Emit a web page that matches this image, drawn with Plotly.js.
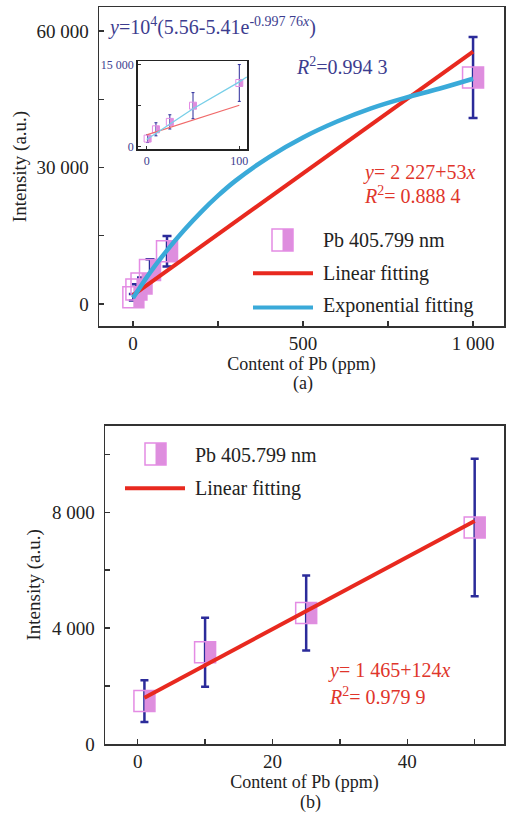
<!DOCTYPE html>
<html>
<head>
<meta charset="utf-8">
<script src="https://cdn.plot.ly/plotly-3.0.1.min.js"></script>
<style>html,body{margin:0;padding:0;background:#fff;}#chart{width:506px;height:817px;}</style>
</head>
<body>
<div id="chart"></div>
<script>
// ---------- data ----------
const contentTop = [1, 10, 25, 50, 100, 1000];
const intensityTop = [1480, 3170, 4520, 7470, 11600, 49800];
const errorTop = [720, 1190, 1295, 2375, 3350, 8900];

const contentBottom = [1, 10, 25, 50];
const intensityBottom = [1480, 3170, 4520, 7470];
const errorBottom = [720, 1190, 1295, 2375];

const linearTopX = [0, 1000];
const linearTopY = [1950, 55450];
const expTopX = [0, 50, 100, 150, 200, 250, 300, 400, 500, 600, 700, 800, 900, 1000];
const expTopY = [1300, 6900, 11800, 16200, 20200, 23800, 27000, 32300, 36600, 40100, 43000, 45300, 47300, 49500];

const insetX = [1, 10, 25, 50, 100];
const insetY = [1480, 3170, 4520, 7470, 11600];
const insetErr = [720, 1190, 1295, 2375, 3350];
const insetLinX = [0, 100];
const insetLinY = [2150, 7550];
const insetExpX = [0, 50, 100, 108];
const insetExpY = [1300, 6900, 11800, 12700];

const linearBottomX = [1, 50];
const linearBottomY = [1600, 7700];

const topXTicks = [0, 500, 1000];
const topXTickText = ['0', '500', '1 000'];
const topXMinor = [250, 750];
const topYTicks = [0, 30000, 60000];
const topYTickText = ['0', '30 000', '60 000'];
const topYMinor = [15000, 45000];
const botXTicks = [0, 20, 40];
const botXTickText = ['0', '20', '40'];
const botXMinor = [10, 30, 50];
const botYTicks = [0, 4000, 8000];
const botYTickText = ['0', '4 000', '8 000'];
const botYMinor = [2000, 6000, 10000];
const insetXTicks = [0, 100];
const insetXTickText = ['0', '100'];
const insetYTicks = [0, 15000];
const insetYTickText = ['0', '15 000'];
const insetYMinor = [7500];

// ---------- styles ----------
const W = 506, H = 817;
const PINK = '#de8ede', PINK_LINE = '#e48ce4';
const NAVY = '#2b2b9a', NAVY_TEXT = '#3d3d8f';
const RED = '#e8291f', RED_TEXT = '#e0352b';
const BLUE = '#3aaad9';
const FONT = 'Liberation Serif, Times New Roman, serif';
const px = v => v / W, py = v => 1 - v / H;

// offset (in data units) of the filled half of each marker
const offTop = 15.4, offBot = 0.78, offIn = 1.9;

const traces = [];
function markerTraces(xs, ys, es, xa, ya, off, size, capW, thick, lw) {
  traces.push({x: xs, y: ys, xaxis: xa, yaxis: ya, type: 'scatter', mode: 'markers', showlegend: false,
    marker: {symbol: 'square-open', size: size, color: PINK_LINE, line: {color: PINK_LINE, width: lw}},
    error_y: {type: 'data', array: es, visible: true, color: NAVY, thickness: thick, width: capW}});
  traces.push({x: xs.map(v => v + off), y: ys, xaxis: xa, yaxis: ya, type: 'scatter', mode: 'markers', showlegend: false,
    marker: {symbol: 'line-ns', size: size / 1.4, color: PINK, line: {color: PINK, width: size / 2}}});
}

// top panel
markerTraces(contentTop, intensityTop, errorTop, 'x', 'y', offTop, 21, 4.5, 2.5, 1.5);
traces.push({x: linearTopX, y: linearTopY, xaxis: 'x', yaxis: 'y', mode: 'lines', showlegend: false,
  line: {color: RED, width: 4}});
traces.push({x: expTopX, y: expTopY, xaxis: 'x', yaxis: 'y', mode: 'lines', showlegend: false,
  line: {color: BLUE, width: 4.5, shape: 'spline', smoothing: 1}});

// inset
markerTraces(insetX, insetY, insetErr, 'x3', 'y3', offIn, 7, 1.5, 1, 1);
traces.push({x: insetLinX, y: insetLinY, xaxis: 'x3', yaxis: 'y3', mode: 'lines', showlegend: false,
  line: {color: '#f06a6a', width: 1.2}});
traces.push({x: insetExpX, y: insetExpY, xaxis: 'x3', yaxis: 'y3', mode: 'lines', showlegend: false,
  line: {color: '#78cfe8', width: 1.3}});

// bottom panel
markerTraces(contentBottom, intensityBottom, errorBottom, 'x2', 'y2', offBot, 21, 4, 2.5, 1.5);
traces.push({x: linearBottomX, y: linearBottomY, xaxis: 'x2', yaxis: 'y2', mode: 'lines', showlegend: false,
  line: {color: RED, width: 4}});

function minorTicks(vals, len, width) {
  return {tickmode: 'array', tickvals: vals, ticks: 'inside', ticklen: len, tickwidth: width, tickcolor: '#333', showgrid: false};
}

const axisBase = {
  showline: true, mirror: true, linecolor: '#333', linewidth: 1.5,
  ticks: 'inside', ticklen: 5, tickwidth: 1.3, tickcolor: '#333',
  showgrid: false, zeroline: false, tickmode: 'array',
  tickfont: {family: FONT, size: 19, color: '#222'}
};

const layout = {
  width: W, height: H, margin: {l: 0, r: 0, t: 0, b: 0},
  paper_bgcolor: '#fff', plot_bgcolor: 'rgba(0,0,0,0)',
  showlegend: false,
  font: {family: FONT},
  xaxis: Object.assign({}, axisBase, {domain: [px(99), px(504)], range: [-100, 1091], anchor: 'y',
    tickvals: topXTicks, ticktext: topXTickText, minor: minorTicks(topXMinor, 5, 1.3),
    title: {text: 'Content of Pb (ppm)', font: {family: FONT, size: 18, color: '#222'}, standoff: 3}}),
  yaxis: Object.assign({}, axisBase, {domain: [py(326), py(7)], range: [-4835, 65270], anchor: 'x',
    tickvals: topYTicks, ticktext: topYTickText, ticklabelstandoff: 5, minor: minorTicks(topYMinor, 5, 1.3),
    title: {text: 'Intensity (a.u.)', font: {family: FONT, size: 19, color: '#222'}, standoff: 5}}),
  xaxis2: Object.assign({}, axisBase, {domain: [px(105), px(504)], range: [-4.85, 54.35], anchor: 'y2',
    tickvals: botXTicks, ticktext: botXTickText, minor: minorTicks(botXMinor, 5, 1.3),
    title: {text: 'Content of Pb (ppm)', font: {family: FONT, size: 18, color: '#222'}, standoff: 3}}),
  yaxis2: Object.assign({}, axisBase, {domain: [py(744), py(425.7)], range: [0, 10985], anchor: 'x2',
    tickvals: botYTicks, ticktext: botYTickText, ticklabelstandoff: 5, minor: minorTicks(botYMinor, 5, 1.3),
    title: {text: 'Intensity (a.u.)', font: {family: FONT, size: 19, color: '#222'}, standoff: 6}}),
  xaxis3: Object.assign({}, axisBase, {domain: [px(137.7), px(247)], range: [-9.7, 108.3], anchor: 'y3',
    linecolor: '#222', linewidth: 1.5, ticklen: 3, tickwidth: 1,
    tickvals: insetXTicks, ticktext: insetXTickText,
    tickfont: {family: FONT, size: 12, color: NAVY_TEXT}}),
  yaxis3: Object.assign({}, axisBase, {domain: [py(149.3), py(61)], range: [-470, 15600], anchor: 'x3',
    linecolor: '#222', linewidth: 1.5, ticklen: 3, tickwidth: 1,
    tickvals: insetYTicks, ticktext: insetYTickText, minor: minorTicks(insetYMinor, 3, 1),
    tickfont: {family: FONT, size: 12, color: NAVY_TEXT}}),
  shapes: [
    // inset white background
    {type: 'rect', xref: 'paper', yref: 'paper', x0: px(137.7), x1: px(247), y0: py(149.3), y1: py(61),
      fillcolor: '#fff', line: {width: 0}, layer: 'below'},
    // top legend
    {type: 'rect', xref: 'paper', yref: 'paper', x0: px(282.5), x1: px(293), y0: py(251), y1: py(229),
      fillcolor: PINK, line: {width: 0}},
    {type: 'rect', xref: 'paper', yref: 'paper', x0: px(272), x1: px(293), y0: py(251), y1: py(229),
      line: {color: PINK_LINE, width: 1.5}},
    {type: 'line', xref: 'paper', yref: 'paper', x0: px(253), x1: px(313), y0: py(273.3), y1: py(273.3),
      line: {color: RED, width: 4}},
    {type: 'line', xref: 'paper', yref: 'paper', x0: px(253), x1: px(313), y0: py(307.5), y1: py(307.5),
      line: {color: BLUE, width: 4}},
    // bottom legend
    {type: 'rect', xref: 'paper', yref: 'paper', x0: px(155.5), x1: px(166), y0: py(465), y1: py(443),
      fillcolor: PINK, line: {width: 0}},
    {type: 'rect', xref: 'paper', yref: 'paper', x0: px(145), x1: px(166), y0: py(465), y1: py(443),
      line: {color: PINK_LINE, width: 1.5}},
    {type: 'line', xref: 'paper', yref: 'paper', x0: px(125), x1: px(185), y0: py(488.3), y1: py(488.3),
      line: {color: RED, width: 4}}
  ],
  annotations: [
    {text: '<i>y</i>=10<sup>4</sup>(5.56-5.41e<sup>-0.997 76<i>x</i></sup>)', x: px(106), y: py(27), xanchor: 'left', yanchor: 'middle',
      font: {family: FONT, size: 20, color: NAVY_TEXT}, showarrow: false, xref: 'paper', yref: 'paper'},
    {text: '<i>R</i><sup>2</sup>=0.994 3', x: px(294), y: py(66), xanchor: 'left', yanchor: 'middle',
      font: {family: FONT, size: 20, color: NAVY_TEXT}, showarrow: false, xref: 'paper', yref: 'paper'},
    {text: '<i>y</i>= 2 227+53<i>x</i>', x: px(361), y: py(172), xanchor: 'left', yanchor: 'middle',
      font: {family: FONT, size: 20, color: RED_TEXT}, showarrow: false, xref: 'paper', yref: 'paper'},
    {text: '<i>R</i><sup>2</sup>= 0.888 4', x: px(362), y: py(195), xanchor: 'left', yanchor: 'middle',
      font: {family: FONT, size: 20, color: RED_TEXT}, showarrow: false, xref: 'paper', yref: 'paper'},
    {text: 'Pb 405.799 nm', x: px(321), y: py(240), xanchor: 'left', yanchor: 'middle',
      font: {family: FONT, size: 20, color: '#222'}, showarrow: false, xref: 'paper', yref: 'paper'},
    {text: 'Linear fitting', x: px(321), y: py(273), xanchor: 'left', yanchor: 'middle',
      font: {family: FONT, size: 20, color: '#222'}, showarrow: false, xref: 'paper', yref: 'paper'},
    {text: 'Exponential fitting', x: px(321), y: py(305), xanchor: 'left', yanchor: 'middle',
      font: {family: FONT, size: 20, color: '#222'}, showarrow: false, xref: 'paper', yref: 'paper'},
    {text: '(a)', x: px(303), y: py(384), xanchor: 'center', yanchor: 'middle',
      font: {family: FONT, size: 18, color: '#222'}, showarrow: false, xref: 'paper', yref: 'paper'},
    {text: 'Pb 405.799 nm', x: px(193), y: py(455), xanchor: 'left', yanchor: 'middle',
      font: {family: FONT, size: 20, color: '#222'}, showarrow: false, xref: 'paper', yref: 'paper'},
    {text: 'Linear fitting', x: px(193), y: py(488), xanchor: 'left', yanchor: 'middle',
      font: {family: FONT, size: 20, color: '#222'}, showarrow: false, xref: 'paper', yref: 'paper'},
    {text: '<i>y</i>= 1 465+124<i>x</i>', x: px(326), y: py(670), xanchor: 'left', yanchor: 'middle',
      font: {family: FONT, size: 20, color: RED_TEXT}, showarrow: false, xref: 'paper', yref: 'paper'},
    {text: '<i>R</i><sup>2</sup>= 0.979 9', x: px(327), y: py(696), xanchor: 'left', yanchor: 'middle',
      font: {family: FONT, size: 20, color: RED_TEXT}, showarrow: false, xref: 'paper', yref: 'paper'},
    {text: '(b)', x: px(310), y: py(802), xanchor: 'center', yanchor: 'middle',
      font: {family: FONT, size: 18, color: '#222'}, showarrow: false, xref: 'paper', yref: 'paper'}
  ]
};

Plotly.newPlot('chart', traces, layout, {staticPlot: true, displayModeBar: false});
</script>
</body>
</html>
